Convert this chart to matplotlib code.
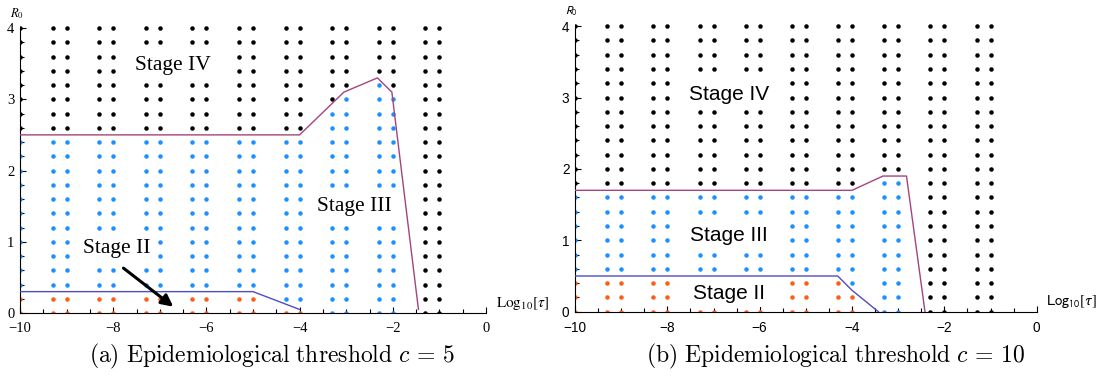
import numpy as np
import matplotlib
matplotlib.use("Agg")
import matplotlib.pyplot as plt
from matplotlib.ticker import MultipleLocator

# ---------------- data ----------------
# sampled tau values (columns) -> plotted as log10(tau)
tau_values = [1e-10, 5e-10, 1e-9, 5e-9, 1e-8, 5e-8, 1e-7, 5e-7, 1e-6, 5e-6,
              1e-5, 5e-5, 1e-4, 5e-4, 1e-3, 5e-3, 1e-2, 5e-2, 1e-1]
R0_values = [0.0, 0.2, 0.4, 0.6, 0.8, 1.0, 1.2, 1.4, 1.6, 1.8, 2.0,
             2.2, 2.4, 2.6, 2.8, 3.0, 3.2, 3.4, 3.6, 3.8, 4.0]

# per column: highest R0 still in Stage II (orange) and in Stage III (blue); -1 = none
a_stage2_max = [0.2, 0.2, 0.2, 0.2, 0.2, 0.2, 0.2, 0.2, 0.2, 0.2,
                0.2, 0.0, 0.0, -1, -1, -1, -1, -1, -1]
a_stage3_max = [2.4, 2.4, 2.4, 2.4, 2.4, 2.4, 2.4, 2.4, 2.4, 2.4,
                2.4, 2.4, 2.4, 2.8, 3.0, 3.2, 3.0, -1, -1]
b_stage2_max = [0.4, 0.4, 0.4, 0.4, 0.4, 0.4, 0.4, 0.4, 0.4, 0.4,
                0.4, 0.4, 0.2, -1, -1, -1, -1, -1, -1]
b_stage3_max = [1.6, 1.6, 1.6, 1.6, 1.6, 1.6, 1.6, 1.6, 1.6, 1.6,
                1.6, 1.6, 1.6, 1.8, 1.8, -1, -1, -1, -1]

# boundary curves
a_upper_x = [-10, -4, -3.05, -2.33, -2.02, -1.45]
a_upper_y = [2.5, 2.5, 3.1, 3.3, 3.1, 0.05]
a_lower_x = [-10, -5, -4]
a_lower_y = [0.3, 0.3, 0.05]
b_upper_x = [-10, -4, -3.33, -2.82, -2.42]
b_upper_y = [1.7, 1.7, 1.9, 1.9, 0.0]
b_lower_x = [-10, -4.31, -4.0, -3.43]
b_lower_y = [0.5, 0.5, 0.3, 0.0]

ORANGE = '#ff5c16'
BLUE = '#1e8fff'
BLACK = '#000000'
PURPLE = '#a3447e'
LBLUE = '#4d4dc2'

fig = plt.figure(figsize=(11.04, 3.86), dpi=100)
axA = fig.add_axes([20/1104, 73/386, 466/1104, 290.7/386])
axB = fig.add_axes([575/1104, (386-311.7)/386, 461.7/1104, 291.3/386])


def draw_dots(ax, s2max, s3max):
    logt = np.log10(tau_values)
    for xi, m2, m3 in zip(logt, s2max, s3max):
        for r in R0_values:
            if r <= m2 + 1e-9:
                c = ORANGE
            elif r <= m3 + 1e-9:
                c = BLUE
            else:
                c = BLACK
            ax.scatter([xi], [r], s=10.5, color=c, linewidths=0, zorder=2)


def style_axes(ax, family, math_family, tick_size, r0_size, log_size):
    ax.set_xlim(-10, 0)
    ax.set_ylim(0, 4.08)
    for sp in ['top', 'right']:
        ax.spines[sp].set_visible(False)
    ax.spines['left'].set_bounds(0, 4)
    ax.spines['left'].set_linewidth(0.8)
    ax.spines['bottom'].set_linewidth(0.8)
    ax.xaxis.set_major_locator(MultipleLocator(2))
    ax.xaxis.set_minor_locator(MultipleLocator(0.5))
    ax.yaxis.set_minor_locator(MultipleLocator(0.2))
    ax.set_yticks([0, 1, 2, 3, 4])
    ax.tick_params(which='both', direction='in', width=0.8, labelsize=tick_size,
                   labelfontfamily=family)
    ax.tick_params(which='major', length=4.5)
    ax.tick_params(axis='x', which='major', pad=6.5)
    ax.tick_params(axis='y', which='major', pad=4)
    ax.tick_params(which='minor', length=2.8)
    ax.annotate(r'$R_0$', xy=(-10, 4), xycoords='data', xytext=(-2.5, 10.5),
                textcoords='offset points', ha='center', va='center',
                fontsize=r0_size, math_fontfamily=math_family, annotation_clip=False)
    ax.annotate(r'$\mathrm{Log}_{10}[\tau]$', xy=(0, 0), xycoords='data',
                xytext=(7, 7), textcoords='offset points', ha='left', va='center',
                fontsize=log_size, math_fontfamily=math_family, annotation_clip=False)


bb = dict(facecolor='white', edgecolor='none', pad=3.2)

# ---------------- panel (a) ----------------
draw_dots(axA, a_stage2_max, a_stage3_max)
axA.plot(a_upper_x, a_upper_y, color=PURPLE, lw=1.0, zorder=5)
axA.plot(a_lower_x, a_lower_y, color=LBLUE, lw=1.0, zorder=5)
style_axes(axA, 'Liberation Serif', 'stix', 10.5, 9, 11)
axA.text(-6.71, 3.48, 'Stage IV', fontsize=15.5, family='Liberation Serif',
         ha='center', va='center', bbox=bb, zorder=4)
axA.text(-2.83, 1.49, 'Stage III', fontsize=15.5, family='Liberation Serif',
         ha='center', va='center', bbox=bb, zorder=4)
axA.text(-7.92, 0.905, 'Stage II', fontsize=15.5, family='Liberation Serif',
         ha='center', va='center', bbox=bb, zorder=4)
axA.annotate('', xy=(-6.71, 0.088), xytext=(-7.78, 0.63),
             arrowprops=dict(arrowstyle='-|>,head_length=0.7,head_width=0.35',
                             color='black', lw=2.2, shrinkA=0, shrinkB=0),
             zorder=6)

# ---------------- panel (b) ----------------
draw_dots(axB, b_stage2_max, b_stage3_max)
axB.plot(b_upper_x, b_upper_y, color=PURPLE, lw=1.0, zorder=5)
axB.plot(b_lower_x, b_lower_y, color=LBLUE, lw=1.0, zorder=5)
style_axes(axB, 'Liberation Sans', 'stixsans', 9.8, 8.5, 10.5)
for txt, yy in [('Stage IV', 3.04), ('Stage III', 1.07), ('Stage II', 0.26)]:
    axB.text(-6.67, yy, txt, fontsize=15, family='Liberation Sans',
             ha='center', va='center', bbox=bb, zorder=4)

# ---------------- captions ----------------
fig.text(272/1104, 0.076, r'$\mathrm{(a)\ Epidemiological\ threshold}\ c\,=\,5$',
         ha='center', va='center', fontsize=17, math_fontfamily='cm')
fig.text(836/1104, 0.076, r'$\mathrm{(b)\ Epidemiological\ threshold}\ c\,=\,10$',
         ha='center', va='center', fontsize=17, math_fontfamily='cm')

fig.savefig('out.png', dpi=100)
